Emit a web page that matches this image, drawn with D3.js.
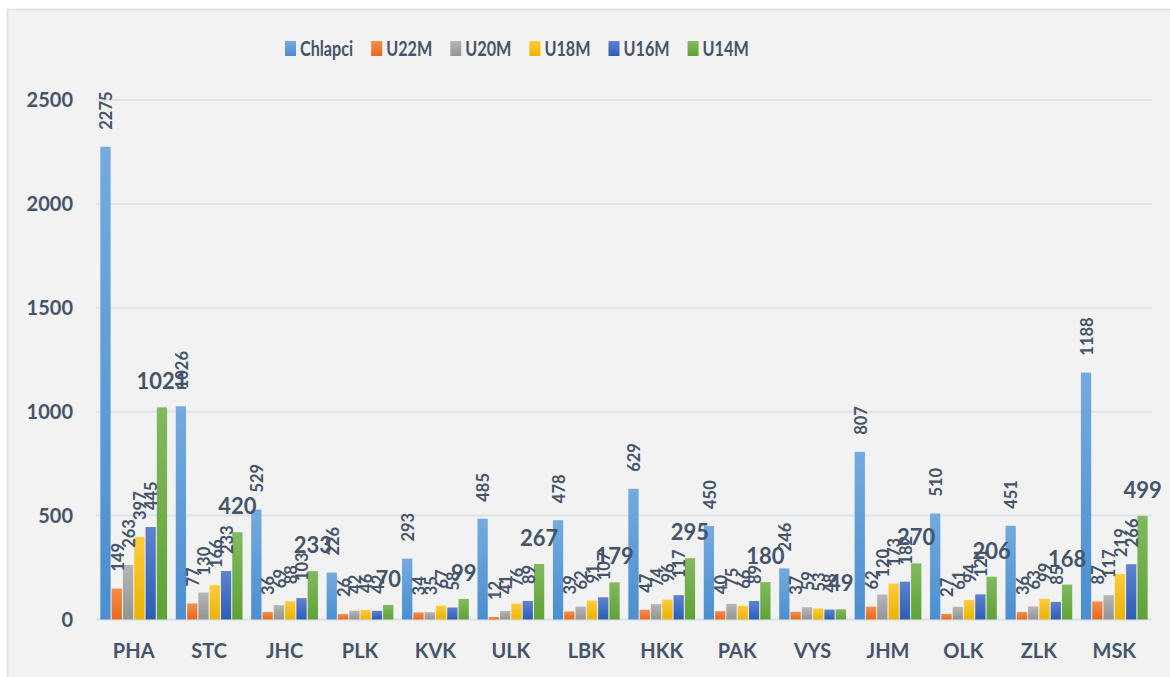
<!DOCTYPE html>
<html>
<head>
<meta charset="utf-8">
<script src="https://cdn.jsdelivr.net/npm/d3@7/dist/d3.min.js"></script>
<style>
  html, body { margin: 0; padding: 0; background: #fff; }
  svg { display: block; font-family: Lato, "Open Sans", sans-serif; }
</style>
</head>
<body>
<svg id="chart" width="1170" height="677"></svg>
<script>
  // regiony
  const regions = ['PHA', 'STC', 'JHC', 'PLK', 'KVK', 'ULK', 'LBK', 'HKK', 'PAK', 'VYS', 'JHM', 'OLK', 'ZLK', 'MSK'];
  const seriesNames = ['Chlapci', 'U22M', 'U20M', 'U18M', 'U16M', 'U14M'];

  // hodnoty podle serii
  const chlapci = [2275, 1026, 529, 226, 293, 485, 478, 629, 450, 246, 807, 510, 451, 1188];
  const u22m = [149, 77, 36, 26, 34, 12, 39, 47, 40, 37, 62, 27, 36, 87];
  const u20m = [263, 130, 69, 42, 35, 41, 62, 74, 75, 59, 120, 61, 63, 117];
  const u18m = [397, 166, 88, 46, 67, 76, 91, 96, 66, 53, 173, 94, 99, 219];
  const u16m = [445, 233, 103, 42, 58, 89, 107, 117, 89, 48, 182, 121, 85, 266];
  const u14m = [1021, 420, 233, 70, 99, 267, 179, 295, 180, 49, 270, 206, 168, 499];
  const yTicks = [0, 500, 1000, 1500, 2000, 2500];

  const seriesValues = [chlapci, u22m, u20m, u18m, u16m, u14m];
  // barvy: horni / dolni cast prechodu
  const colors = [
    ['#74aade', '#4a8fd0'],
    ['#f58d4f', '#e8691b'],
    ['#b6b6b6', '#939393'],
    ['#ffcb3d', '#e9b400'],
    ['#5d83cf', '#2e5db6'],
    ['#82ba5e', '#5fa237']
  ];
  const textColor = '#44546a';

  const svg = d3.select('#chart');
  const margin = { left: 96, right: 1152, top: 100, bottom: 619.5 };

  // pozadi grafu
  svg.append('rect')
    .attr('x', 7.5).attr('y', 9.5)
    .attr('width', 1175).attr('height', 680)
    .attr('fill', '#f2f2f2')
    .attr('stroke', '#d9dee6')
    .attr('stroke-width', 1.5);

  const defs = svg.append('defs');
  colors.forEach((c, i) => {
    const g = defs.append('linearGradient')
      .attr('id', 'grad' + i)
      .attr('x1', 0).attr('y1', 0).attr('x2', 0).attr('y2', 1);
    g.append('stop').attr('offset', '0%').attr('stop-color', c[0]);
    g.append('stop').attr('offset', '100%').attr('stop-color', c[1]);
  });

  const x0 = d3.scaleBand()
    .domain(regions)
    .range([margin.left, margin.right])
    .paddingInner(0.115)
    .paddingOuter(0.0575);

  const x1 = d3.scaleBand()
    .domain(seriesNames)
    .range([0, x0.bandwidth()])
    .paddingInner(0.09);

  const y = d3.scaleLinear()
    .domain([0, 2500])
    .range([margin.bottom, margin.top]);

  // mrizka
  svg.append('g')
    .selectAll('line')
    .data(yTicks)
    .join('line')
    .attr('x1', margin.left).attr('x2', margin.right)
    .attr('y1', d => y(d)).attr('y2', d => y(d))
    .attr('stroke', '#dde3ea')
    .attr('stroke-width', d => d === 0 ? 2.5 : 2);

  // popisky osy y
  svg.append('g')
    .selectAll('text')
    .data(yTicks)
    .join('text')
    .attr('x', 73)
    .attr('y', d => y(d))
    .attr('dy', '0.35em')
    .attr('text-anchor', 'end')
    .attr('font-size', 20)
    .attr('font-weight', 'bold')
    .attr('fill', textColor)
    .text(d => d);

  // popisky kategorii
  svg.append('g')
    .selectAll('text')
    .data(regions)
    .join('text')
    .attr('x', d => x0(d) + x0.bandwidth() / 2)
    .attr('y', 658)
    .attr('text-anchor', 'middle')
    .attr('font-size', 20)
    .attr('font-weight', 'bold')
    .attr('fill', textColor)
    .text(d => d);

  const flat = [];
  regions.forEach((r, ri) => {
    seriesNames.forEach((s, si) => {
      flat.push({ region: r, series: s, si, value: seriesValues[si][ri] });
    });
  });

  // sloupce
  svg.append('g')
    .selectAll('rect')
    .data(flat)
    .join('rect')
    .attr('x', d => x0(d.region) + x1(d.series))
    .attr('y', d => y(d.value))
    .attr('width', x1.bandwidth())
    .attr('height', d => y(0) - y(d.value))
    .attr('fill', d => `url(#grad${d.si})`);

  // svisle popisky hodnot (vsechny serie krome U14M)
  svg.append('g')
    .selectAll('text')
    .data(flat.filter(d => d.series !== 'U14M'))
    .join('text')
    .attr('transform', d => {
      const cx = x0(d.region) + x1(d.series) + x1.bandwidth() / 2 + 1;
      return `translate(${cx},${y(d.value) - 17}) rotate(-90)`;
    })
    .attr('dy', '0.35em')
    .attr('font-size', 16.5)
    .attr('font-weight', 'bold')
    .attr('fill', textColor)
    .text(d => d.value);

  // vodorovne popisky U14M
  svg.append('g')
    .selectAll('text')
    .data(flat.filter(d => d.series === 'U14M'))
    .join('text')
    .attr('x', d => x0(d.region) + x1(d.series) + x1.bandwidth() / 2)
    .attr('y', d => y(d.value) - 18)
    .attr('text-anchor', 'middle')
    .attr('font-size', 22)
    .attr('font-weight', 'bold')
    .attr('fill', textColor)
    .text(d => d.value);

  // legenda
  const legend = svg.append('g');
  const sx = 0.9;
  let lx = 285;
  seriesNames.forEach((s, i) => {
    legend.append('rect')
      .attr('x', lx).attr('y', 41)
      .attr('width', 11).attr('height', 15)
      .attr('fill', `url(#grad${i})`);
    const t = legend.append('text')
      .attr('transform', `translate(${lx + 15},55.5) scale(${sx},1.2)`)
      .attr('font-size', 18)
      .attr('font-weight', 'bold')
      .attr('fill', textColor)
      .text(s);
    lx += 15 + t.node().getComputedTextLength() * sx + 18;
  });
</script>
</body>
</html>
